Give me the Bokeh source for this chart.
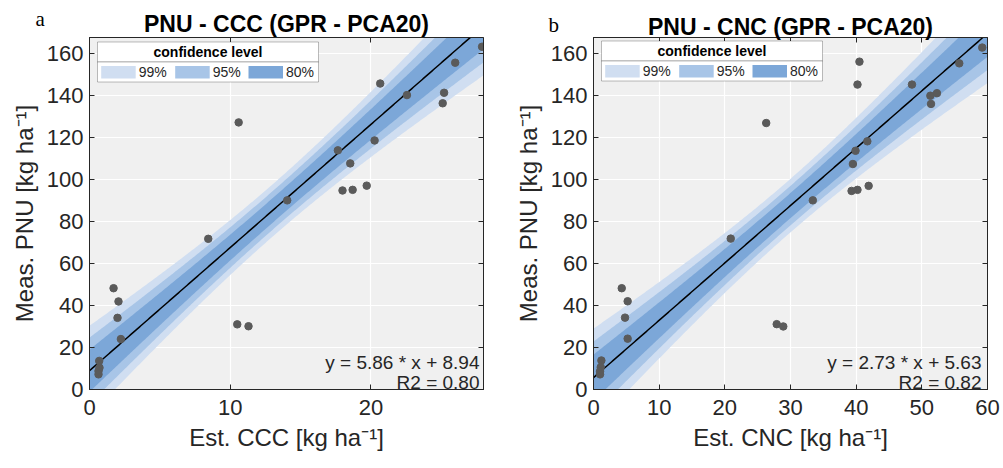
import numpy as np
from bokeh.plotting import figure
from bokeh.models import FixedTicker, LinearAxis, Label, BoxAnnotation, Title
from bokeh.layouts import row
from bokeh.embed import file_html
from bokeh.resources import INLINE

# ---------------- data ----------------
ccc_est = [27.9, 25.99, 20.66, 22.56, 25.2, 25.1, 10.6, 17.65, 20.26, 18.53,
           17.98, 18.7, 19.7, 14.05, 8.44, 1.71, 2.06, 1.99, 2.23, 10.5,
           11.3, 0.69, 0.71, 0.64, 0.64]
pnu_meas_a = [163.1, 155.5, 145.6, 140.1, 141.2, 136.2, 127.1, 113.8, 118.5, 107.6,
              94.7, 95.0, 97.0, 90.0, 71.7, 48.2, 41.9, 34.1, 24.0, 31.0,
              30.1, 13.6, 10.4, 8.8, 7.2]

cnc_est = [59.2, 55.7, 40.5, 40.2, 48.5, 51.3, 52.3, 51.4, 26.3, 41.7,
           39.9, 39.5, 39.3, 40.2, 41.9, 33.4, 20.9, 4.3, 5.2, 4.8,
           5.2, 27.9, 28.9, 1.2, 1.1, 1.0, 1.0]
pnu_meas_b = [162.7, 155.2, 156.0, 145.1, 145.1, 139.8, 141.0, 135.9, 126.8, 118.1,
              113.6, 107.3, 94.5, 95.0, 96.9, 90.0, 71.8, 48.2, 42.0, 34.2,
              24.2, 31.1, 30.0, 13.8, 10.6, 8.7, 7.2]

slope_a, intercept_a, r2_a = 5.86, 8.94, 0.80
slope_b, intercept_b, r2_b = 2.73, 5.63, 0.82

conf_labels = ["99%", "95%", "80%"]
t_crit = [2.807, 2.069, 1.319]          # Student-t quantiles (df ~ 23-25)
band_colors = ["#D0DEF1", "#A8C5E7", "#7CA7D8"]

x_ticks_a = [0, 10, 20]
x_ticks_b = [0, 10, 20, 30, 40, 50, 60]
y_ticks = [0, 20, 40, 60, 80, 100, 120, 140, 160]

titles = ["PNU - CCC (GPR - PCA20)", "PNU - CNC (GPR - PCA20)"]
x_labels = ["Est. CCC [kg ha\u207b\u00b9]", "Est. CNC [kg ha\u207b\u00b9]"]
y_label = "Meas. PNU [kg ha\u207b\u00b9]"
tags = ["a", "b"]

# ---------------- styling ----------------
SANS = "Liberation Sans"
AX = "#262626"
PT = "#5A5A5A"


def conf_halfwidth(x, y, slope, intercept, xs, t):
    x = np.asarray(x, float)
    y = np.asarray(y, float)
    n = len(x)
    resid = y - (slope * x + intercept)
    s = np.sqrt(np.sum(resid ** 2) / (n - 2))
    xbar = x.mean()
    sxx = np.sum((x - xbar) ** 2)
    return t * s * np.sqrt(1.0 / n + (xs - xbar) ** 2 / sxx)


def make_panel(x, y, slope, intercept, r2, xmax, xticks, title, xlabel, tag,
               width, height, bl, br, bt, bb, tag_off, tag_std, title_std,
               ylab_std, eq_pad):
    p = figure(width=width, height=height, x_range=(0, xmax), y_range=(0, 167.5),
               output_backend="svg", toolbar_location=None,
               min_border_left=bl, min_border_right=br,
               min_border_top=bt, min_border_bottom=bb)
    fw = width - bl - br
    fh = height - bt - bb
    p.background_fill_color = "#F0F0F0"
    p.border_fill_color = "white"
    p.outline_line_color = AX
    p.outline_line_width = 1
    p.grid.grid_line_color = "white"
    p.grid.grid_line_width = 1.2
    p.title.text = ""

    # confidence bands
    xs = np.linspace(-0.05 * xmax, 1.05 * xmax, 300)
    yfit = slope * xs + intercept
    for t, col in zip(t_crit, band_colors):
        hw = conf_halfwidth(x, y, slope, intercept, xs, t)
        p.varea(x=xs, y1=yfit - hw, y2=yfit + hw, fill_color=col, fill_alpha=1.0)
    p.line(xs, yfit, line_color="black", line_width=1.5)
    p.scatter(x, y, size=7.5, fill_color=PT, line_color=PT)

    # axes
    p.xaxis.ticker = FixedTicker(ticks=xticks)
    p.yaxis.ticker = FixedTicker(ticks=y_ticks)
    p.xgrid.ticker = FixedTicker(ticks=xticks)
    p.ygrid.ticker = FixedTicker(ticks=y_ticks)
    for ax in (p.xaxis[0], p.yaxis[0]):
        ax.major_tick_in = 5
        ax.major_tick_out = 0
        ax.minor_tick_line_color = None
        ax.axis_line_color = AX
        ax.major_tick_line_color = AX
        ax.major_label_text_color = AX
        ax.axis_label_text_color = AX
        ax.axis_label_text_font_style = "normal"
    p.xaxis.major_label_text_font = SANS
    p.xaxis.major_label_text_font_size = "22px"
    p.xaxis.major_label_standoff = 10
    p.xaxis.axis_label = xlabel
    p.xaxis.axis_label_text_font = SANS
    p.xaxis.axis_label_text_font_size = "24px"
    p.xaxis.axis_label_standoff = 6
    p.yaxis.major_label_text_font = SANS
    p.yaxis.major_label_text_font_size = "22px"
    p.yaxis.major_label_standoff = 6
    p.yaxis.axis_label = y_label
    p.yaxis.axis_label_text_font = SANS
    p.yaxis.axis_label_text_font_size = "24px"
    p.yaxis.axis_label_standoff = ylab_std

    # box ticks on top / right
    for loc, ticks in (("above", xticks), ("right", y_ticks)):
        ax = LinearAxis(ticker=FixedTicker(ticks=ticks),
                        major_label_overrides={k: "" for k in ticks},
                        major_label_text_font_size="0px", major_label_standoff=0,
                        major_tick_in=5, major_tick_out=0,
                        minor_tick_line_color=None,
                        axis_line_color=AX, major_tick_line_color=AX)
        p.add_layout(ax, loc)

    # title (closest to the frame) and panel tag (outermost, pulled down into
    # the title row with a negative standoff)
    p.add_layout(Title(text=title, align="center", text_font=SANS,
                       text_font_style="bold", text_font_size="23px",
                       text_color="black", standoff=title_std), "above")
    p.add_layout(Title(text="\n" + tag, align="left", offset=tag_off,
                       text_font="Liberation Serif", text_font_style="normal",
                       text_font_size="21px", text_color="black",
                       standoff=tag_std), "above")

    # legend (confidence level)
    lx0, lx1 = 8, 229
    ly_top, ly_div, ly_bot = 9.5, 29.5, 49.5
    for top, bot in ((ly_top, ly_div), (ly_div, ly_bot)):
        p.add_layout(BoxAnnotation(left=lx0, right=lx1, top=fh - top, bottom=fh - bot,
                                   left_units="screen", right_units="screen",
                                   top_units="screen", bottom_units="screen",
                                   fill_color="white", fill_alpha=1,
                                   line_color=AX, line_width=1))
    p.add_layout(Label(x=(lx0 + lx1) / 2, y=fh - 19.5, x_units="screen", y_units="screen",
                       text="confidence level", text_font=SANS, text_font_style="bold",
                       text_font_size="14px", text_align="center", text_baseline="middle",
                       text_color="black"))
    sw_x = [11.7, 85.7, 159.0]
    for lab, col, sx in zip(conf_labels, band_colors, sw_x):
        p.add_layout(BoxAnnotation(left=sx, right=sx + 34.5, top=fh - 33.5, bottom=fh - 46,
                                   left_units="screen", right_units="screen",
                                   top_units="screen", bottom_units="screen",
                                   fill_color=col, fill_alpha=1, line_color=None))
        p.add_layout(Label(x=sx + 37.5, y=fh - 39.8, x_units="screen", y_units="screen",
                           text=lab, text_font=SANS, text_font_size="14px",
                           text_align="left", text_baseline="middle", text_color=AX))

    # fit equation
    eq = f"y = {slope:.2f} * x + {intercept:.2f}"
    p.add_layout(Label(x=fw - eq_pad, y=27, x_units="screen", y_units="screen", text=eq,
                       text_font=SANS, text_font_size="19px", text_align="right",
                       text_baseline="alphabetic", text_color=AX))
    p.add_layout(Label(x=fw - eq_pad, y=7, x_units="screen", y_units="screen",
                       text=f"R2 = {r2:.2f}",
                       text_font=SANS, text_font_size="19px", text_align="right",
                       text_baseline="alphabetic", text_color=AX))
    return p


pa = make_panel(ccc_est, pnu_meas_a, slope_a, intercept_a, r2_a, 28, x_ticks_a,
                titles[0], x_labels[0], tags[0],
                width=508, height=466, bl=89, br=25, bt=37, bb=72,
                tag_off=-54, tag_std=-46, title_std=2, ylab_std=6, eq_pad=4)
pb = make_panel(cnc_est, pnu_meas_b, slope_b, intercept_b, r2_b, 60, x_ticks_b,
                titles[1], x_labels[1], tags[1],
                width=493, height=466, bl=85, br=14, bt=31, bb=77,
                tag_off=-45, tag_std=-46, title_std=-4, ylab_std=6, eq_pad=6)

layout = row(pa, pb)
open("out.html", "w").write(file_html(layout, INLINE))
